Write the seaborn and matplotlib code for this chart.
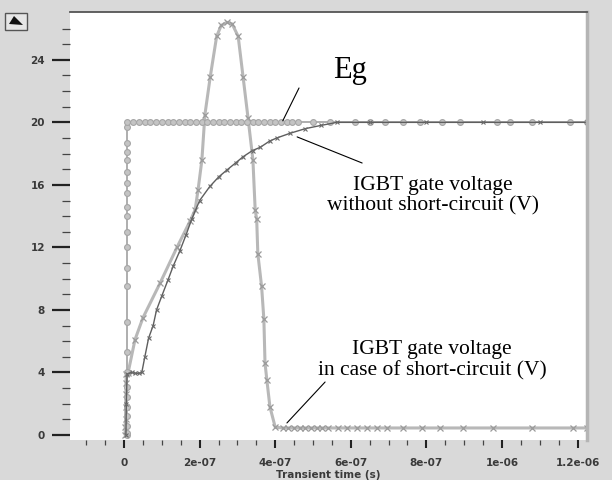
import matplotlib
matplotlib.use("Agg")
import matplotlib.pyplot as plt
import seaborn as sns
from matplotlib.ticker import FixedLocator, FixedFormatter
from matplotlib.patches import Rectangle, Polygon

# ---------------- data (time in units of 1e-7 s, voltage in V) ----------------
# Eg source: fast rise at t~0.08e-7 then flat at 20 V
eg_t = [0.08] * 24 + [0.25, 0.4, 0.55, 0.7, 0.85, 1.0, 1.15, 1.3, 1.45, 1.6, 1.75, 1.9,
                      2.05, 2.2, 2.35, 2.5, 2.65, 2.8, 2.95, 3.1, 3.25, 3.4, 3.55, 3.7,
                      3.85, 4.0, 4.15, 4.3, 4.45, 4.6, 5.0, 5.45, 6.11, 6.51, 6.9, 7.38,
                      7.83, 8.41, 8.89, 9.87, 10.21, 10.79, 11.8, 12.25]
eg_v = [0, 0.1, 0.6, 1.2, 1.8, 2.4, 3.1, 4.0, 5.3, 7.2, 9.5, 10.7, 12.0, 13.0, 14.0,
        14.6, 15.5, 16.1, 16.8, 17.6, 18.1, 18.7, 19.7, 20.0] + [20.0] * 44

# IGBT gate voltage in case of short-circuit
sc_t = [0.03, 0.03, 0.04, 0.04, 0.05, 0.05, 0.06, 0.106, 0.29, 0.50, 0.95, 1.40, 1.75,
        1.88, 1.96, 2.06, 2.14, 2.28, 2.45, 2.57, 2.72, 2.86, 3.02, 3.15, 3.28, 3.41,
        3.47, 3.51, 3.54, 3.64, 3.70, 3.73, 3.78, 3.86, 4.00, 4.20, 4.35, 4.5, 4.65,
        4.8, 4.95, 5.1, 5.25, 5.4, 5.66, 5.9, 6.16, 6.43, 6.69, 6.96, 7.38, 7.88, 8.36,
        8.97, 9.76, 10.79, 11.88, 12.25]
sc_v = [0.0, 0.5, 1.0, 1.8, 2.6, 3.3, 3.9, 3.97, 6.1, 7.5, 9.7, 12.0, 13.7,
        14.4, 15.7, 17.6, 20.5, 22.9, 25.5, 26.2, 26.4, 26.3, 25.5, 22.9, 20.3, 17.6,
        14.4, 13.8, 11.6, 9.5, 7.4, 4.6, 3.5, 1.8, 0.5, 0.45, 0.45, 0.45, 0.45,
        0.45, 0.45, 0.45, 0.45, 0.45, 0.45, 0.45, 0.45, 0.45, 0.45, 0.45, 0.45, 0.45, 0.45,
        0.45, 0.45, 0.45, 0.45, 0.45]

# IGBT gate voltage without short-circuit
ns_t = [0.05, 0.06, 0.08, 0.2, 0.3, 0.4, 0.47, 0.55, 0.65, 0.77, 0.86, 1.0, 1.16, 1.3,
        1.48, 1.64, 1.79, 2.0, 2.27, 2.5, 2.72, 2.95, 3.15, 3.4, 3.6, 3.85, 4.04, 4.39,
        4.8, 5.2, 5.63, 6.5, 8.0, 9.5, 11.0, 12.25]
ns_v = [0.0, 2.0, 3.9, 4.0, 3.95, 3.95, 4.0, 5.0, 6.2, 7.0, 8.0, 8.9, 9.9, 10.8,
        11.8, 12.8, 13.8, 15.0, 15.9, 16.5, 16.95, 17.4, 17.8, 18.2, 18.4, 18.8, 19.0, 19.3,
        19.6, 19.8, 20.0, 20.0, 20.0, 20.0, 20.0, 20.0]

x_ticks = [0, 2e-7, 4e-7, 6e-7, 8e-7, 1e-6, 1.2e-6]
x_labels = ["0", "2e-07", "4e-07", "6e-07", "8e-07", "1e-06", "1.2e-06"]
y_ticks = [0, 4, 8, 12, 16, 20, 24]
y_labels = ["0", "4", "8", "12", "16", "20", "24"]

SCALE = 1e-7
eg_ts = [t * SCALE for t in eg_t]
sc_ts = [t * SCALE for t in sc_t]
ns_ts = [t * SCALE for t in ns_t]

# ---------------- figure ----------------
sns.set_theme(style="white")
plt.rcParams['font.family'] = ['DejaVu Sans']

W, H = 612, 480
fig = plt.figure(figsize=(W / 100, H / 100), dpi=100)
fig.patch.set_facecolor('#d9d9d9')
L, R, T, B = 70, 587, 11.7, 440
ax = fig.add_axes([L / W, 1 - B / H, (R - L) / W, (B - T) / H])
ax.set_facecolor('white')

sns.lineplot(x=sc_ts, y=sc_v, ax=ax, sort=False, estimator=None, color='#b8b8b8',
             lw=2.2, marker='x', markersize=4, markeredgecolor='#9a9a9a',
             markeredgewidth=0.9)
sns.lineplot(x=eg_ts, y=eg_v, ax=ax, sort=False, estimator=None, color='#a8a8a8',
             lw=1.3, marker='o', markersize=4.2, markerfacecolor='#c4c4c4',
             markeredgecolor='#a6a6a6', markeredgewidth=0.8)
sns.lineplot(x=ns_ts, y=ns_v, ax=ax, sort=False, estimator=None, color='#5e5e5e',
             lw=1.0, marker='x', markersize=3, markeredgecolor='#6a6a6a',
             markeredgewidth=0.8)

ax.set_xlim(-1.43e-7, 1.225e-6)
ax.set_ylim(-0.32, 27.08)

ax.xaxis.set_major_locator(FixedLocator(x_ticks))
ax.xaxis.set_major_formatter(FixedFormatter(x_labels))
ax.xaxis.set_minor_locator(FixedLocator([k * 5e-8 for k in range(-2, 25)]))
ax.yaxis.set_major_locator(FixedLocator(y_ticks))
ax.yaxis.set_major_formatter(FixedFormatter(y_labels))
ax.yaxis.set_minor_locator(FixedLocator(list(range(0, 27))))

ax.tick_params(axis='y', which='major', left=True, length=13, width=1.6, color='#222222',
               pad=5, labelsize=7.5, labelcolor='#3a3a3a')
ax.tick_params(axis='y', which='minor', left=True, length=6, width=0.9, color='#444444')
ax.tick_params(axis='x', which='major', bottom=True, length=6, width=1.5, color='#222222',
               pad=7, labelsize=7.5, labelcolor='#3a3a3a')
ax.tick_params(axis='x', which='minor', bottom=True, length=3.5, width=0.9, color='#444444')
for lab in ax.get_xticklabels() + ax.get_yticklabels():
    lab.set_fontweight('bold')

ax.set_xlabel('Transient time (s)', fontsize=7.5, fontweight='bold', color='#3a3a3a',
              labelpad=1.5)
ax.set_ylabel('')

for s in ['left', 'bottom']:
    ax.spines[s].set_visible(False)
ax.spines['top'].set_color('#555555')
ax.spines['top'].set_linewidth(1.3)
ax.spines['right'].set_color('#b5b5b5')
ax.spines['right'].set_linewidth(2.5)

# ---------------- annotations ----------------
serif = ['Liberation Serif', 'DejaVu Serif']
ax.text(5.98e-7, 23.35, 'Eg', family=serif, fontsize=22, ha='center', va='center',
        color='black')
ax.text(8.17e-7, 15.3, 'IGBT gate voltage\nwithout short-circuit (V)', family=serif,
        fontsize=15.5, ha='center', va='center', linespacing=1.12, color='black')
ax.text(8.15e-7, 4.8, 'IGBT gate voltage\nin case of short-circuit (V)', family=serif,
        fontsize=15.5, ha='center', va='center', linespacing=1.12, color='black')

lp = dict(arrowstyle='-', color='black', lw=0.8, shrinkA=0, shrinkB=0)
ax.annotate('', xy=(4.2e-7, 20.1), xytext=(4.63e-7, 22.2), arrowprops=lp)
ax.annotate('', xy=(4.58e-7, 19.07), xytext=(6.3e-7, 17.4), arrowprops=lp)
ax.annotate('', xy=(4.31e-7, 0.77), xytext=(5.32e-7, 3.39), arrowprops=lp)

# small scroll button at top-left
fig.add_artist(Rectangle((5 / W, 1 - 30 / H), 22 / W, 17 / H, transform=fig.transFigure,
                         facecolor='#e6e6e6', edgecolor='#555555', lw=1))
fig.add_artist(Polygon([(9 / W, 1 - 24 / H), (14 / W, 1 - 16 / H), (23 / W, 1 - 25 / H)],
                       closed=True, transform=fig.transFigure, facecolor='#111111',
                       edgecolor='none'))

fig.savefig('out.png', dpi=100, facecolor=fig.get_facecolor())
